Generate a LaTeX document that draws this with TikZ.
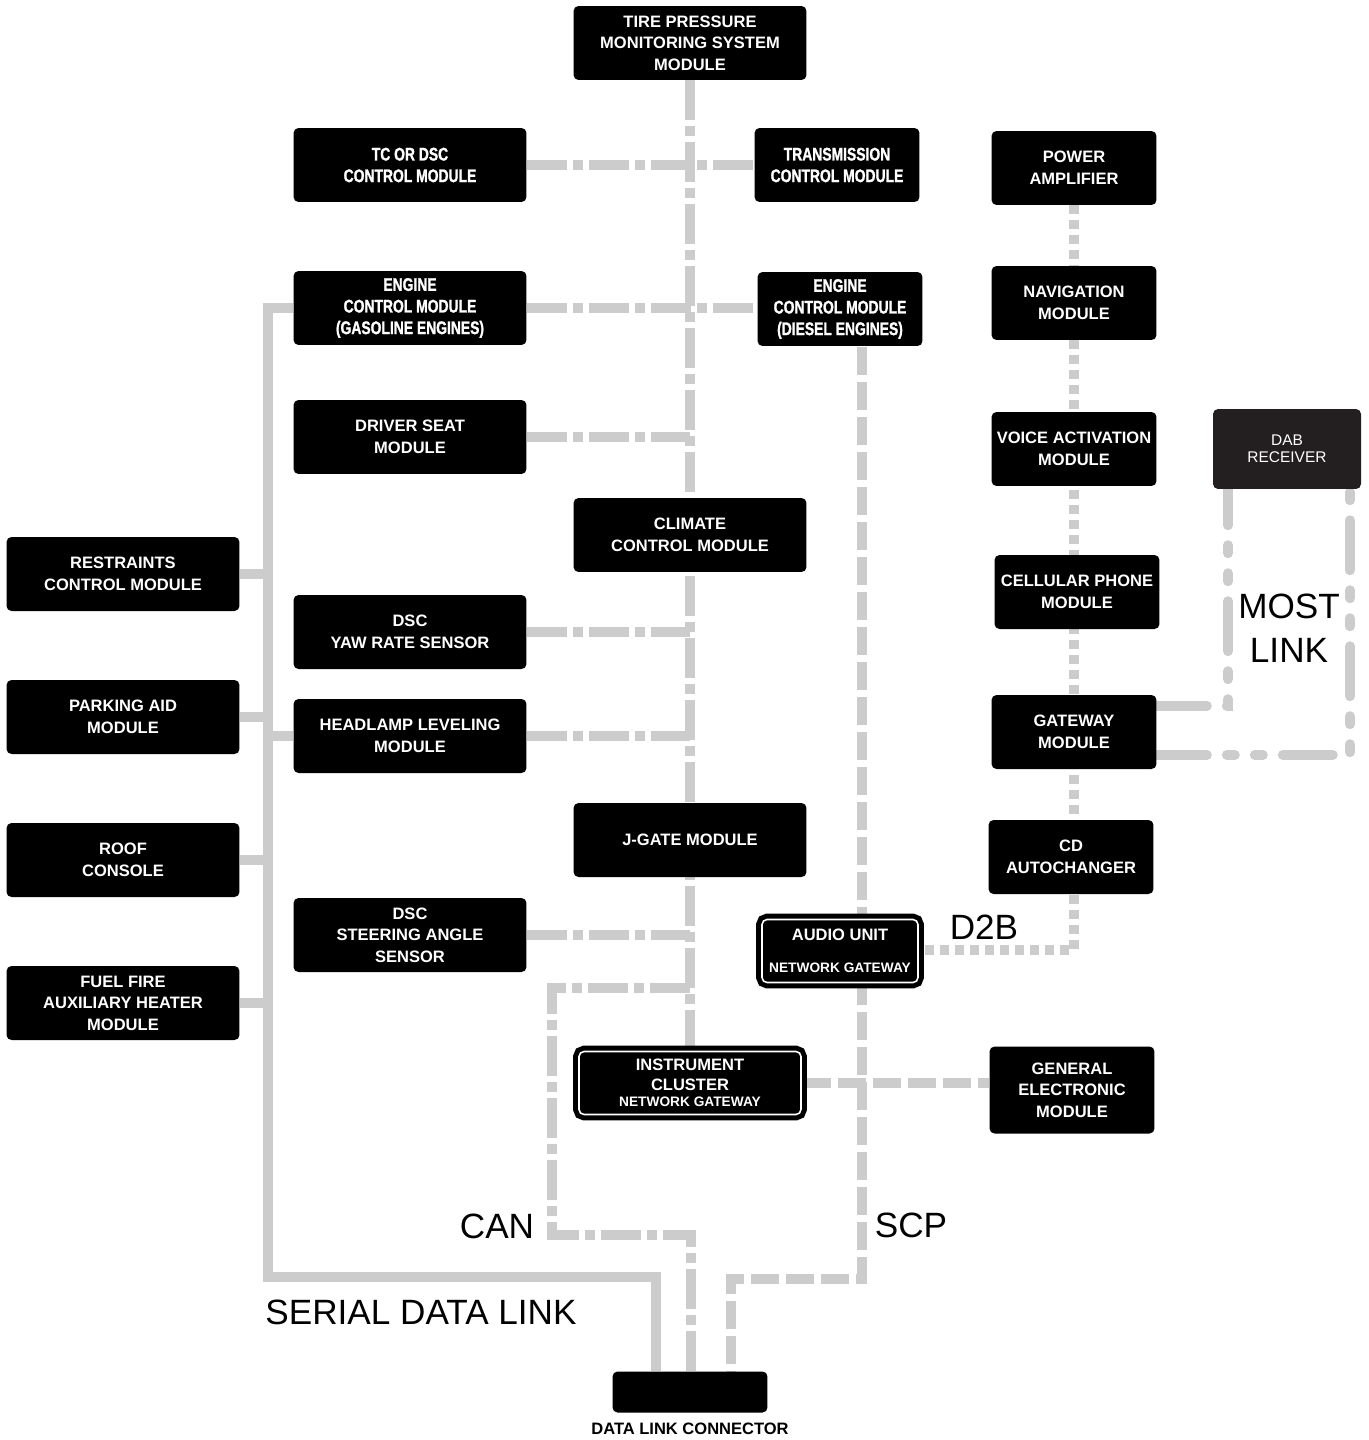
\documentclass[tikz,border=0pt]{standalone}
\usepackage{fontspec}
\setmainfont{Liberation Sans}
\newfontface\narrowbold[FakeStretch=0.76, FakeBold=1.2]{Liberation Sans Bold}
\usetikzlibrary{backgrounds}

\definecolor{busgray}{HTML}{CCCCCC}
\definecolor{dabgray}{HTML}{231F20}

\begin{document}
\begin{tikzpicture}[x=0.02cm, y=-0.02cm]

	% Styles for modules and bus lines
	\tikzstyle{module} = [rectangle, rounded corners=0.1cm, fill=black, text=white, align=center, inner sep=0pt,
	minimum width=4.66cm, minimum height=1.48cm, font=\bfseries\fontsize{9.4}{12.3}\selectfont]
	\tikzstyle{shortmodule} = [module, minimum width=3.3cm]
	\tikzstyle{narrow} = [font=\narrowbold\fontsize{10.4}{12.3}\selectfont]
	\tikzstyle{gatebox} = [module, draw=black, double=white, double distance=0.9pt, line width=0.1cm,
	minimum height=1.26cm]
	\tikzstyle{buslabel} = [font=\fontsize{20}{25}\selectfont, inner sep=0pt]
	\tikzstyle{serial} = [draw=busgray, line width=0.2cm]
	\tikzstyle{can} = [serial, dash pattern=on 0.8cm off 0.12cm on 0.2cm off 0.12cm]
	\tikzstyle{scp} = [serial, dash pattern=on 0.56cm off 0.14cm]
	\tikzstyle{dtwob} = [serial, dash pattern=on 0.18cm off 0.12cm]
	\tikzstyle{most} = [serial, line cap=round, dash pattern=on 1.0cm off 0.4cm on 0.16cm off 0.4cm on 0.16cm off 0.4cm]

	\useasboundingbox (0,0) rectangle (1369,1440);

	% Center column (CAN)
	\node[module] (tpms) at (690,43) {TIRE PRESSURE\\MONITORING SYSTEM\\MODULE};
	\node[module] (climate) at (690,535) {CLIMATE\\CONTROL MODULE};
	\node[module] (jgate) at (690,840) {J-GATE MODULE};
	\node[gatebox, minimum width=4.44cm] (cluster) at (690,1083)
	{INSTRUMENT\\[-1pt]CLUSTER\\[-3pt]{\fontsize{7.8}{8}\selectfont NETWORK GATEWAY}};

	% CAN modules left and right
	\node[module, narrow] (tcdsc) at (410,165) {TC OR DSC\\CONTROL MODULE};
	\node[shortmodule, narrow] (tcm) at (837,165) {TRANSMISSION\\CONTROL MODULE};
	\node[module, narrow] (ecmgas) at (410,308) {ENGINE\\CONTROL MODULE\\(GASOLINE ENGINES)};
	\node[shortmodule, narrow] (ecmdsl) at (840,309) {ENGINE\\CONTROL MODULE\\(DIESEL ENGINES)};
	\node[module] (seat) at (410,437) {DRIVER SEAT\\MODULE};
	\node[module] (yaw) at (410,632) {DSC\\YAW RATE SENSOR};
	\node[module] (headlamp) at (410,736) {HEADLAMP LEVELING\\MODULE};
	\node[module] (steering) at (410,935) {DSC\\STEERING ANGLE\\SENSOR};

	% Serial data link modules
	\node[module] (rcm) at (123,574) {RESTRAINTS\\CONTROL MODULE};
	\node[module] (park) at (123,717) {PARKING AID\\MODULE};
	\node[module] (roof) at (123,860) {ROOF\\CONSOLE};
	\node[module] (fuel) at (123,1003) {FUEL FIRE\\AUXILIARY HEATER\\MODULE};

	% D2B ring and MOST
	\node[shortmodule] (amp) at (1074,168) {POWER\\AMPLIFIER};
	\node[shortmodule] (nav) at (1074,303) {NAVIGATION\\MODULE};
	\node[shortmodule] (voice) at (1074,449) {VOICE ACTIVATION\\MODULE};
	\node[shortmodule] (phone) at (1077,592) {CELLULAR PHONE\\MODULE};
	\node[shortmodule] (gateway) at (1074,732) {GATEWAY\\MODULE};
	\node[shortmodule] (cdchanger) at (1071,857) {CD\\AUTOCHANGER};
	\node[module, fill=dabgray, minimum width=2.96cm, minimum height=1.6cm,
	font=\fontsize{8.8}{9.6}\selectfont] (dab) at (1287,449) {DAB\\RECEIVER};
	\node[gatebox, minimum width=3.12cm] (audio) at (840,951)
	{AUDIO UNIT\\[6pt]{\fontsize{7.8}{8}\selectfont NETWORK GATEWAY}};

	% SCP module and connector
	\node[shortmodule, minimum height=1.74cm] (gem) at (1072,1090) {GENERAL\\ELECTRONIC\\MODULE};
	\node[module, minimum width=3.1cm, minimum height=0.82cm] (dlc) at (690,1392) {};
	\node[font=\bfseries\fontsize{9.4}{10}\selectfont, inner sep=0pt] (dlclabel) at (690,1429) {DATA LINK CONNECTOR};

	% Bus names
	\node[buslabel] (lblcan) at (497,1226) {CAN};
	\node[buslabel] (lblsdl) at (421,1312) {SERIAL DATA LINK};
	\node[buslabel] (lblscp) at (911,1225) {SCP};
	\node[buslabel] (lbldtwob) at (984,927) {D2B};
	\node[buslabel, align=center] (lblmost) at (1289,628) {MOST\\LINK};

	% Corner points of the buses
	\coordinate (canloop) at (690,988);
	\coordinate (canleft) at (552,1235);
	\coordinate (canbot) at (691,1235);
	\coordinate (sdltop) at (268,308);
	\coordinate (sdlbot) at (268,1277);
	\coordinate (sdlin) at (656,1277);
	\coordinate (scptop) at (862,347);
	\coordinate (scpbot) at (862,1279);
	\coordinate (scpin) at (731,1279);
	\coordinate (dtwobend) at (1074,950);
	\coordinate (mostA) at (1228,706);
	\coordinate (mostB) at (1350,755);

	\begin{pgfonlayer}{background}
		% CAN
		\draw[can] (tpms.south) -- (cluster.north);
		\draw[can] (canloop) -| (canleft) -- (canbot) -- (canbot |- dlc.north);
		\draw[can] (tcdsc.east) -- (tcm.west);
		\draw[can] (ecmgas.east) -- (ecmgas.east -| ecmdsl.west);
		\draw[can] (seat.east) -- (seat.east -| tpms.south);
		\draw[can] (yaw.east) -- (yaw.east -| tpms.south);
		\draw[can] (headlamp.east) -- (headlamp.east -| tpms.south);
		\draw[can] (steering.east) -- (steering.east -| tpms.south);

		% Serial data link
		\draw[serial] (ecmgas.west) -- (sdltop) -- (sdlbot) -- (sdlin) -- (sdlin |- dlc.north);
		\draw[serial] (rcm.east) -- (rcm.east -| sdltop);
		\draw[serial] (park.east) -- (park.east -| sdltop);
		\draw[serial] (headlamp.west) -- (headlamp.west -| sdltop);
		\draw[serial] (roof.east) -- (roof.east -| sdltop);
		\draw[serial] (fuel.east) -- (fuel.east -| sdltop);

		% SCP
		\draw[scp] (scptop) -- (scpbot) -- (scpin) -- (scpin |- dlc.north);
		\draw[scp] (cluster.east) -- (cluster.east -| gem.west);

		% D2B
		\draw[dtwob] (amp.south) -- (dtwobend) -- (dtwobend -| audio.east);

		% MOST
		\draw[most] (mostA -| gateway.east) -- (mostA) -- (mostA |- dab.south);
		\draw[most] (mostB -| gateway.east) -- (mostB) -- (mostB |- dab.south);
	\end{pgfonlayer}

\end{tikzpicture}
\end{document}
